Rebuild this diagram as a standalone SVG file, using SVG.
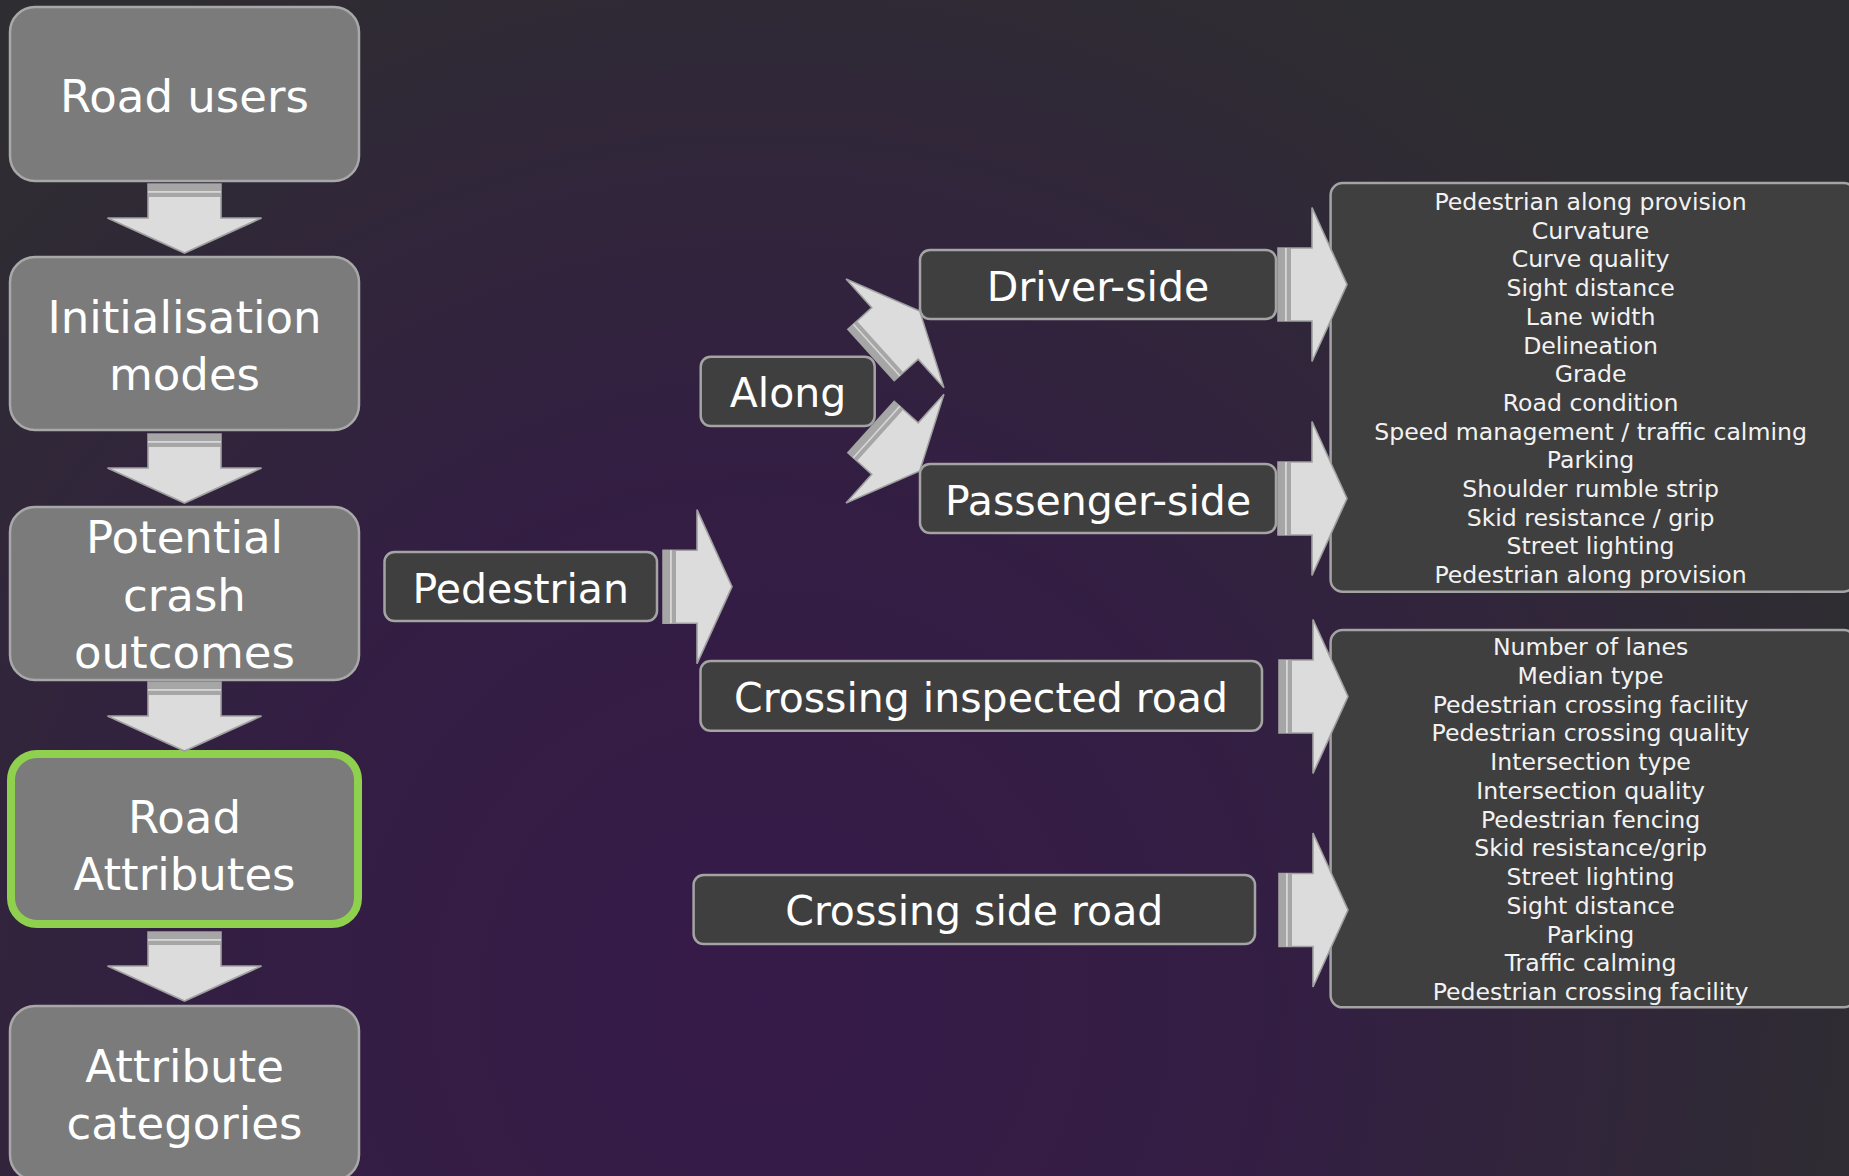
<svg xmlns="http://www.w3.org/2000/svg" xmlns:xlink="http://www.w3.org/1999/xlink" width="1849" height="1176" viewBox="0 0 1849 1176">
<defs>
  <radialGradient id="bg" gradientUnits="userSpaceOnUse" cx="760" cy="1000" r="1150">
    <stop offset="0" stop-color="#361a49"/>
    <stop offset="0.45" stop-color="#331e43"/>
    <stop offset="1" stop-color="#2e2d31"/>
  </radialGradient>
  <g id="arr">
    <polygon points="0,-36.5 34,-36.5 34,-77 69,0 34,77 34,36.5 0,36.5" fill="#dcdcdc" stroke="#a0a0a0" stroke-width="1.6" stroke-linejoin="miter"/>
    <rect x="0" y="-36.5" width="13" height="73" fill="#a6a6a6"/>
    <rect x="7" y="-36.5" width="1.8" height="73" fill="#d6d6d6"/>
  </g>
  <style>
    .lb { fill:#7a7b7a; stroke:#a8a8a8; stroke-width:2.5; }
    .mb { fill:#3f3f3f; stroke:#a4a4a4; stroke-width:2.5; }
    .lt { font-family:"DejaVu Sans", "Liberation Sans", sans-serif; font-size:45px; fill:#ffffff; text-anchor:middle; }
    .mt { font-family:"DejaVu Sans", "Liberation Sans", sans-serif; font-size:41px; fill:#ffffff; text-anchor:middle; }
    .st { font-family:"DejaVu Sans", "Liberation Sans", sans-serif; font-size:23.6px; fill:#f2f2f2; text-anchor:middle; }
  </style>
</defs>
<rect x="0" y="0" width="1849" height="1176" fill="url(#bg)"/>

<g id="node-road-users">
  <rect class="lb" x="10" y="7" width="349" height="174" rx="25"/>
  <text class="lt" x="184.5" y="112">Road users</text>
</g>
<g id="node-initialisation-modes">
  <rect class="lb" x="10" y="257" width="349" height="173" rx="25"/>
  <text class="lt" x="184.5" y="333">Initialisation</text>
  <text class="lt" x="184.5" y="390">modes</text>
</g>
<g id="node-potential-crash-outcomes">
  <rect class="lb" x="10" y="507" width="349" height="173" rx="25"/>
  <text class="lt" x="184.5" y="553">Potential</text>
  <text class="lt" x="184.5" y="611">crash</text>
  <text class="lt" x="184.5" y="668">outcomes</text>
</g>
<g id="node-road-attributes">
  <rect x="11" y="754" width="347" height="170" rx="26" fill="#7a7b7a" stroke="#8fd14f" stroke-width="8"/>
  <text class="lt" x="184.5" y="833">Road</text>
  <text class="lt" x="184.5" y="890">Attributes</text>
</g>
<g id="node-attribute-categories">
  <rect class="lb" x="10" y="1006" width="349" height="174" rx="25"/>
  <text class="lt" x="184.5" y="1082">Attribute</text>
  <text class="lt" x="184.5" y="1139">categories</text>
</g>

<g id="node-pedestrian">
  <rect class="mb" x="384.5" y="552" width="272.5" height="69" rx="10"/>
  <text class="mt" x="520.7" y="603">Pedestrian</text>
</g>
<g id="node-along">
  <rect class="mb" x="700.7" y="356.7" width="174" height="69.3" rx="10"/>
  <text class="mt" x="788" y="406.7">Along</text>
</g>
<g id="node-driver-side">
  <rect class="mb" x="920" y="250" width="356" height="69" rx="10"/>
  <text class="mt" x="1098" y="300.7">Driver-side</text>
</g>
<g id="node-passenger-side">
  <rect class="mb" x="920" y="464" width="356" height="69" rx="10"/>
  <text class="mt" x="1098" y="515">Passenger-side</text>
</g>
<g id="node-crossing-inspected-road">
  <rect class="mb" x="700.5" y="661" width="561.5" height="69.7" rx="10"/>
  <text class="mt" x="981" y="711.7">Crossing inspected road</text>
</g>
<g id="node-crossing-side-road">
  <rect class="mb" x="693.6" y="875" width="561.4" height="69" rx="10"/>
  <text class="mt" x="974.3" y="925">Crossing side road</text>
</g>

<g id="node-along-attributes">
  <rect class="mb" x="1330.6" y="183" width="525" height="408.7" rx="12"/>
  <text class="st" x="1590.6" y="210">Pedestrian along provision</text>
  <text class="st" x="1590.6" y="238.7">Curvature</text>
  <text class="st" x="1590.6" y="267.4">Curve quality</text>
  <text class="st" x="1590.6" y="296.1">Sight distance</text>
  <text class="st" x="1590.6" y="324.8">Lane width</text>
  <text class="st" x="1590.6" y="353.5">Delineation</text>
  <text class="st" x="1590.6" y="382.2">Grade</text>
  <text class="st" x="1590.6" y="410.9">Road condition</text>
  <text class="st" x="1590.6" y="439.6">Speed management / traffic calming</text>
  <text class="st" x="1590.6" y="468.3">Parking</text>
  <text class="st" x="1590.6" y="497">Shoulder rumble strip</text>
  <text class="st" x="1590.6" y="525.7">Skid resistance / grip</text>
  <text class="st" x="1590.6" y="554.4">Street lighting</text>
  <text class="st" x="1590.6" y="583.1">Pedestrian along provision</text>
</g>
<g id="node-crossing-attributes">
  <rect class="mb" x="1330.6" y="630" width="525" height="377.3" rx="12"/>
  <text class="st" x="1590.6" y="655">Number of lanes</text>
  <text class="st" x="1590.6" y="683.75">Median type</text>
  <text class="st" x="1590.6" y="712.5">Pedestrian crossing facility</text>
  <text class="st" x="1590.6" y="741.25">Pedestrian crossing quality</text>
  <text class="st" x="1590.6" y="770">Intersection type</text>
  <text class="st" x="1590.6" y="798.75">Intersection quality</text>
  <text class="st" x="1590.6" y="827.5">Pedestrian fencing</text>
  <text class="st" x="1590.6" y="856.25">Skid resistance/grip</text>
  <text class="st" x="1590.6" y="885">Street lighting</text>
  <text class="st" x="1590.6" y="913.75">Sight distance</text>
  <text class="st" x="1590.6" y="942.5">Parking</text>
  <text class="st" x="1590.6" y="971.25">Traffic calming</text>
  <text class="st" x="1590.6" y="1000">Pedestrian crossing facility</text>
</g>

<g id="connectors">
  <use xlink:href="#arr" href="#arr" transform="translate(184.5,184) rotate(90)"/>
  <use xlink:href="#arr" href="#arr" transform="translate(184.5,434) rotate(90)"/>
  <use xlink:href="#arr" href="#arr" transform="translate(184.5,682) rotate(90)"/>
  <use xlink:href="#arr" href="#arr" transform="translate(184.5,932) rotate(90)"/>
  <use xlink:href="#arr" href="#arr" transform="translate(663,586.7)"/>
  <use xlink:href="#arr" href="#arr" transform="translate(871,355) rotate(-42) scale(0.95)"/>
  <use xlink:href="#arr" href="#arr" transform="translate(871,427) rotate(42) scale(0.95)"/>
  <use xlink:href="#arr" href="#arr" transform="translate(1278,284.5)"/>
  <use xlink:href="#arr" href="#arr" transform="translate(1278,498.5)"/>
  <use xlink:href="#arr" href="#arr" transform="translate(1279,696.5)"/>
  <use xlink:href="#arr" href="#arr" transform="translate(1279,910)"/>
</g>
</svg>
